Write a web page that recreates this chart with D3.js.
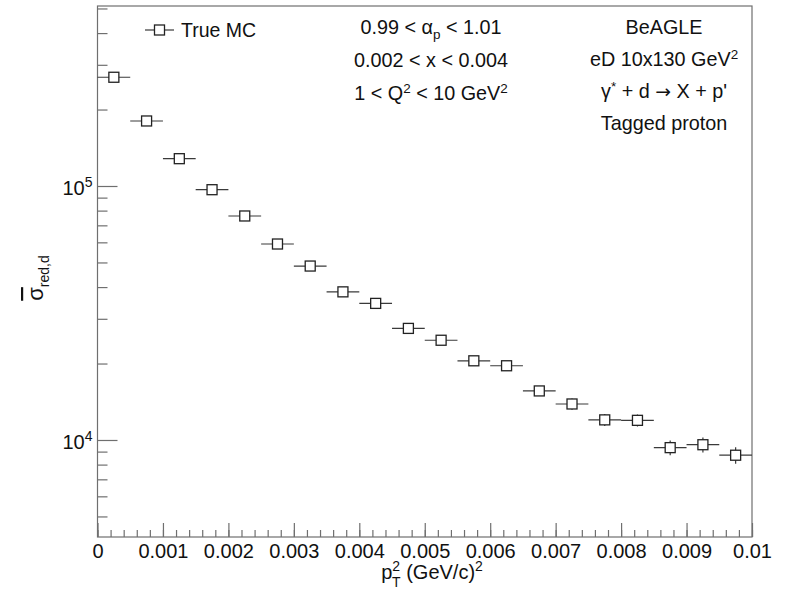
<!DOCTYPE html>
<html>
<head>
<meta charset="utf-8">
<script src="https://cdn.jsdelivr.net/npm/d3@7"></script>
<style>
  html, body { margin: 0; padding: 0; background: #ffffff; }
  svg { display: block; }
  text { font-family: "Liberation Sans", Arial, Helvetica, sans-serif; fill: #111; }
</style>
</head>
<body>
<svg id="chart" width="795" height="590"></svg>
<script>
// p_T^2 bin centres (GeV/c)^2, bin width 0.0005
const binCenters = [0.00025, 0.00075, 0.00125, 0.00175, 0.00225, 0.00275, 0.00325, 0.00375, 0.00425, 0.00475,
                    0.00525, 0.00575, 0.00625, 0.00675, 0.00725, 0.00775, 0.00825, 0.00875, 0.00925, 0.00975];
const binWidth = 0.0005;
// reduced cross section, True MC
const sigmaRed = [268000, 180300, 128100, 96700, 76200, 59100, 48400, 38300, 34500, 27500,
                  24700, 20500, 19600, 15600, 13860, 12000, 11950, 9330, 9580, 8710];
const sigmaErr = [2500, 2000, 1600, 1300, 1100, 950, 850, 750, 700, 650,
                  600, 560, 560, 700, 700, 650, 650, 620, 650, 650];

const xTickValues = [0, 0.001, 0.002, 0.003, 0.004, 0.005, 0.006, 0.007, 0.008, 0.009, 0.01];
const xTickLabels = ["0", "0.001", "0.002", "0.003", "0.004", "0.005", "0.006", "0.007", "0.008", "0.009", "0.01"];
const yMajorTicks = [1e4, 1e5];
const yMajorExponents = ["4", "5"];
const xRange = [0, 0.01];
const yRange = [4150, 511300];

const legendLabel = "True MC";
const cutLines = [
  [{t: "0.99 < α"}, {t: "p", sub: true}, {t: " < 1.01"}],
  [{t: "0.002 < x < 0.004"}],
  [{t: "1 < Q"}, {t: "2", sup: true}, {t: " < 10 GeV"}, {t: "2", sup: true}]
];
const infoLines = [
  [{t: "BeAGLE"}],
  [{t: "eD 10x130 GeV"}, {t: "2", sup: true}],
  [{t: "γ"}, {t: "*", sup: true}, {t: " + d "}, {t: "→", arrow: true}, {t: " X + p'"}],
  [{t: "Tagged proton"}]
];

const svg = d3.select("#chart");
const W = 795, H = 590;
const frame = {left: 97.5, right: 752, top: 6, bottom: 537};

svg.append("rect").attr("width", W).attr("height", H).attr("fill", "#ffffff");

const x = d3.scaleLinear().domain(xRange).range([frame.left, frame.right]);
const y = d3.scaleLog().domain(yRange).range([frame.bottom, frame.top]);

const axisColor = "#6f6f6f";
const labelSize = 20;

// frame
svg.append("rect")
  .attr("x", frame.left).attr("y", frame.top)
  .attr("width", frame.right - frame.left).attr("height", frame.bottom - frame.top)
  .attr("fill", "none").attr("stroke", axisColor).attr("stroke-width", 1.2);

// x axis: major and minor ticks pointing inward
const xMinor = d3.range(0, 51).map(i => i * 0.0002).filter(v => v <= 0.01 + 1e-12);
svg.append("g").attr("transform", `translate(0,${frame.bottom})`)
  .call(d3.axisBottom(x).tickValues(xMinor).tickSize(-7).tickFormat(""))
  .call(g => g.select(".domain").remove())
  .call(g => g.selectAll("line").attr("stroke", axisColor).attr("stroke-width", 1.2));

const xAx = svg.append("g").attr("transform", `translate(0,${frame.bottom})`)
  .call(d3.axisBottom(x).tickValues(xTickValues).tickSize(-14).tickPadding(21)
    .tickFormat((d, i) => xTickLabels[i]))
  .call(g => g.select(".domain").remove())
  .call(g => g.selectAll("line").attr("stroke", axisColor).attr("stroke-width", 1.2));
xAx.selectAll("text").attr("font-size", labelSize).attr("dy", 0).attr("fill", "#111")
  .style("font-family", "Liberation Sans, Arial, sans-serif");

// y axis: log ticks
const yMinor = [];
[1e3, 1e4, 1e5].forEach(dec => {
  for (let k = 2; k <= 9; k++) {
    const v = k * dec;
    if (v >= yRange[0] && v <= yRange[1]) yMinor.push(v);
  }
});
svg.append("g").attr("transform", `translate(${frame.left},0)`)
  .call(d3.axisLeft(y).tickValues(yMinor).tickSize(-10).tickFormat(""))
  .call(g => g.select(".domain").remove())
  .call(g => g.selectAll("line").attr("stroke", axisColor).attr("stroke-width", 1.2));

svg.append("g").attr("transform", `translate(${frame.left},0)`)
  .call(d3.axisLeft(y).tickValues(yMajorTicks).tickSize(-20).tickFormat(""))
  .call(g => g.select(".domain").remove())
  .call(g => g.selectAll("line").attr("stroke", axisColor).attr("stroke-width", 1.2));

yMajorTicks.forEach((v, i) => {
  const t = svg.append("text")
    .attr("x", frame.left - 5).attr("y", y(v) + 9)
    .attr("text-anchor", "end").attr("font-size", labelSize);
  t.append("tspan").text("10");
  t.append("tspan").attr("font-size", 14).attr("dy", -8).text(yMajorExponents[i]);
});

// axis titles
const xt = svg.append("text").attr("x", 432).attr("y", 579)
  .attr("text-anchor", "middle").attr("font-size", labelSize);
xt.append("tspan").text("p");
xt.append("tspan").attr("font-size", 14).attr("dy", -8).text("2");
xt.append("tspan").attr("font-size", 14).attr("dx", -8).attr("dy", 16).text("T");
xt.append("tspan").attr("dy", -8).text(" (GeV/c)");
xt.append("tspan").attr("font-size", 14).attr("dy", -8).text("2");

const yt = svg.append("text")
  .attr("transform", `translate(43,${278}) rotate(-90)`)
  .attr("text-anchor", "middle").attr("font-size", 22);
yt.append("tspan").style("text-decoration", "overline").text("σ");
yt.append("tspan").attr("font-size", 14).attr("dy", 6).text("red,d");

// data: error bars then open square markers
const pts = binCenters.map((c, i) => ({c, v: sigmaRed[i], e: sigmaErr[i]}));
const gData = svg.append("g");
gData.selectAll("line.h").data(pts).join("line")
  .attr("x1", d => x(d.c - binWidth / 2)).attr("x2", d => x(d.c + binWidth / 2))
  .attr("y1", d => y(d.v)).attr("y2", d => y(d.v))
  .attr("stroke", "#3a3a3a").attr("stroke-width", 1.2);
gData.selectAll("line.v").data(pts).join("line")
  .attr("x1", d => x(d.c)).attr("x2", d => x(d.c))
  .attr("y1", d => y(d.v - d.e)).attr("y2", d => y(d.v + d.e))
  .attr("stroke", "#3a3a3a").attr("stroke-width", 1.2);
const ms = 10;
gData.selectAll("rect").data(pts).join("rect")
  .attr("x", d => x(d.c) - ms / 2).attr("y", d => y(d.v) - ms / 2)
  .attr("width", ms).attr("height", ms)
  .attr("fill", "#ffffff").attr("stroke", "#222").attr("stroke-width", 1.3);

// legend
const lg = svg.append("g");
lg.append("line").attr("x1", 145).attr("x2", 174).attr("y1", 30).attr("y2", 30)
  .attr("stroke", "#3a3a3a").attr("stroke-width", 1.2);
lg.append("rect").attr("x", 159.5 - ms / 2).attr("y", 30 - ms / 2).attr("width", ms).attr("height", ms)
  .attr("fill", "#ffffff").attr("stroke", "#222").attr("stroke-width", 1.3);
lg.append("text").attr("x", 181).attr("y", 37).attr("font-size", 19.5).text(legendLabel);

// annotation text blocks
function drawLines(lines, cx, y0, dy, size) {
  lines.forEach((parts, i) => {
    const t = svg.append("text").attr("x", cx).attr("y", y0 + i * dy)
      .attr("text-anchor", "middle").attr("font-size", size);
    let shift = 0;
    parts.forEach(p => {
      const ts = t.append("tspan").text(p.t);
      if (p.sub) { ts.attr("font-size", size * 0.68).attr("dy", 5 - shift); shift = 5; }
      else if (p.sup) { ts.attr("font-size", size * 0.68).attr("dy", -7 - shift); shift = -7; }
      else {
        if (shift !== 0) { ts.attr("dy", -shift); shift = 0; }
        if (p.arrow) ts.style("font-family", "DejaVu Sans, sans-serif").attr("font-size", size * 0.95);
      }
    });
  });
}
drawLines(cutLines, 431, 34, 33, 19.8);
drawLines(infoLines, 664, 34, 32, 19.8);
</script>
</body>
</html>
